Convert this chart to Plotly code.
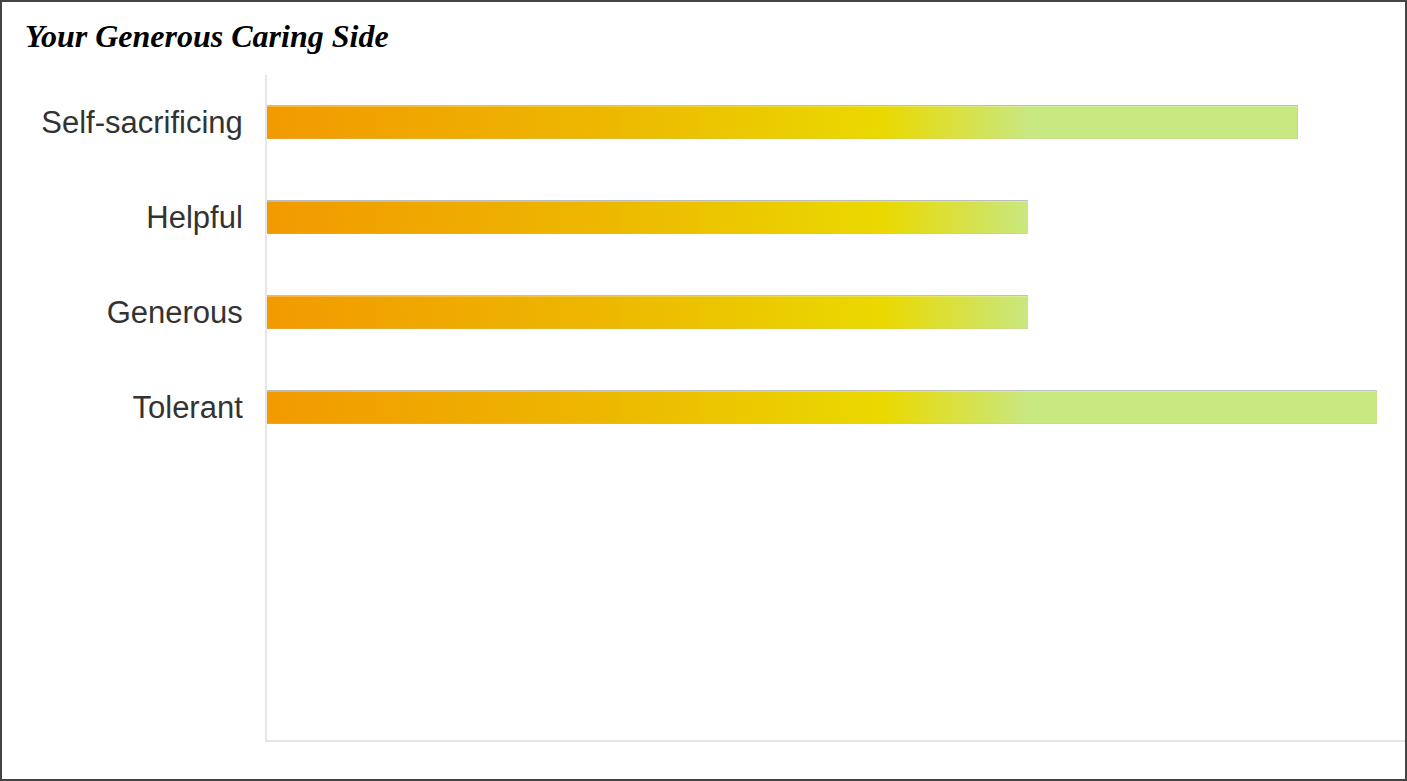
import plotly.graph_objects as go

# ---- data ----
categories = ["Self-sacrificing", "Helpful", "Generous", "Tolerant"]
values = [65, 48, 48, 70]
x_max = 71.9
n_slots = 7  # category slots on the axis (only first 4 used)

# ---- style ----
bar_half = 0.170
grad_scale = [
    [0.0, "#F29A00"],
    [0.29, "#EDB700"],
    [0.54, "#EAD900"],
    [0.67, "#C8E882"],
    [1.0, "#C8E882"],
]

W, H = 1407, 781
L, R, T, B = 267, 0, 75, 41
pw, ph = W - L - R, H - T - B

pos = list(range(len(categories)))

# gradient-filled bar bodies, built from the values
xs, ys = [], []
for p, v in zip(pos, values):
    xs += [0, v, v, 0, 0, None]
    ys += [p - bar_half, p - bar_half, p + bar_half, p + bar_half, p - bar_half, None]

fig = go.Figure()
fig.add_trace(go.Scatter(
    x=xs, y=ys, mode="lines", fill="toself",
    line=dict(width=0, color="rgba(0,0,0,0)"),
    fillgradient=dict(type="horizontal", colorscale=grad_scale, start=0, stop=x_max),
    hoverinfo="skip", showlegend=False,
))
# outlines via bar trace
fig.add_trace(go.Bar(
    x=values, y=pos, orientation="h", width=bar_half * 2,
    marker=dict(color="rgba(0,0,0,0)", line=dict(color="#BDBDBD", width=1)),
    showlegend=False, hovertemplate="%{x}<extra></extra>",
))

def px_x(px):
    return (px - L) / pw

def px_y(py):
    return (H - B - py) / ph

fig.update_layout(
    width=W, height=H,
    margin=dict(l=L, r=R, t=T, b=B),
    paper_bgcolor="white", plot_bgcolor="white",
    title=dict(
        text="<b><i>Your Generous Caring Side</i></b>",
        font=dict(family="Liberation Serif, Times New Roman, serif", size=32, color="#000"),
        x=25 / W, xanchor="left", xref="container",
        y=1 - 36 / H, yanchor="middle", yref="container",
    ),
    xaxis=dict(range=[0, x_max], showgrid=False, zeroline=False, showticklabels=False,
               showline=True, linecolor="#E6E6E6", linewidth=2, ticks=""),
    yaxis=dict(range=[n_slots - 0.5, -0.5], tickvals=pos, ticktext=categories,
               showgrid=False, zeroline=False, showline=True, linecolor="#E6E6E6",
               linewidth=2, ticks="", ticklabelstandoff=16,
               tickfont=dict(family="Liberation Sans, Arial, sans-serif", size=31, color="#333")),
    shapes=[dict(type="rect", xref="paper", yref="paper",
                 x0=px_x(1), x1=px_x(W - 1), y0=px_y(H - 1), y1=px_y(1),
                 line=dict(color="#444", width=2), fillcolor="rgba(0,0,0,0)", layer="above")],
    bargap=0,
)

fig.write_html("out.html", config={"displayModeBar": False},
               post_script="document.body.style.margin='0';")
